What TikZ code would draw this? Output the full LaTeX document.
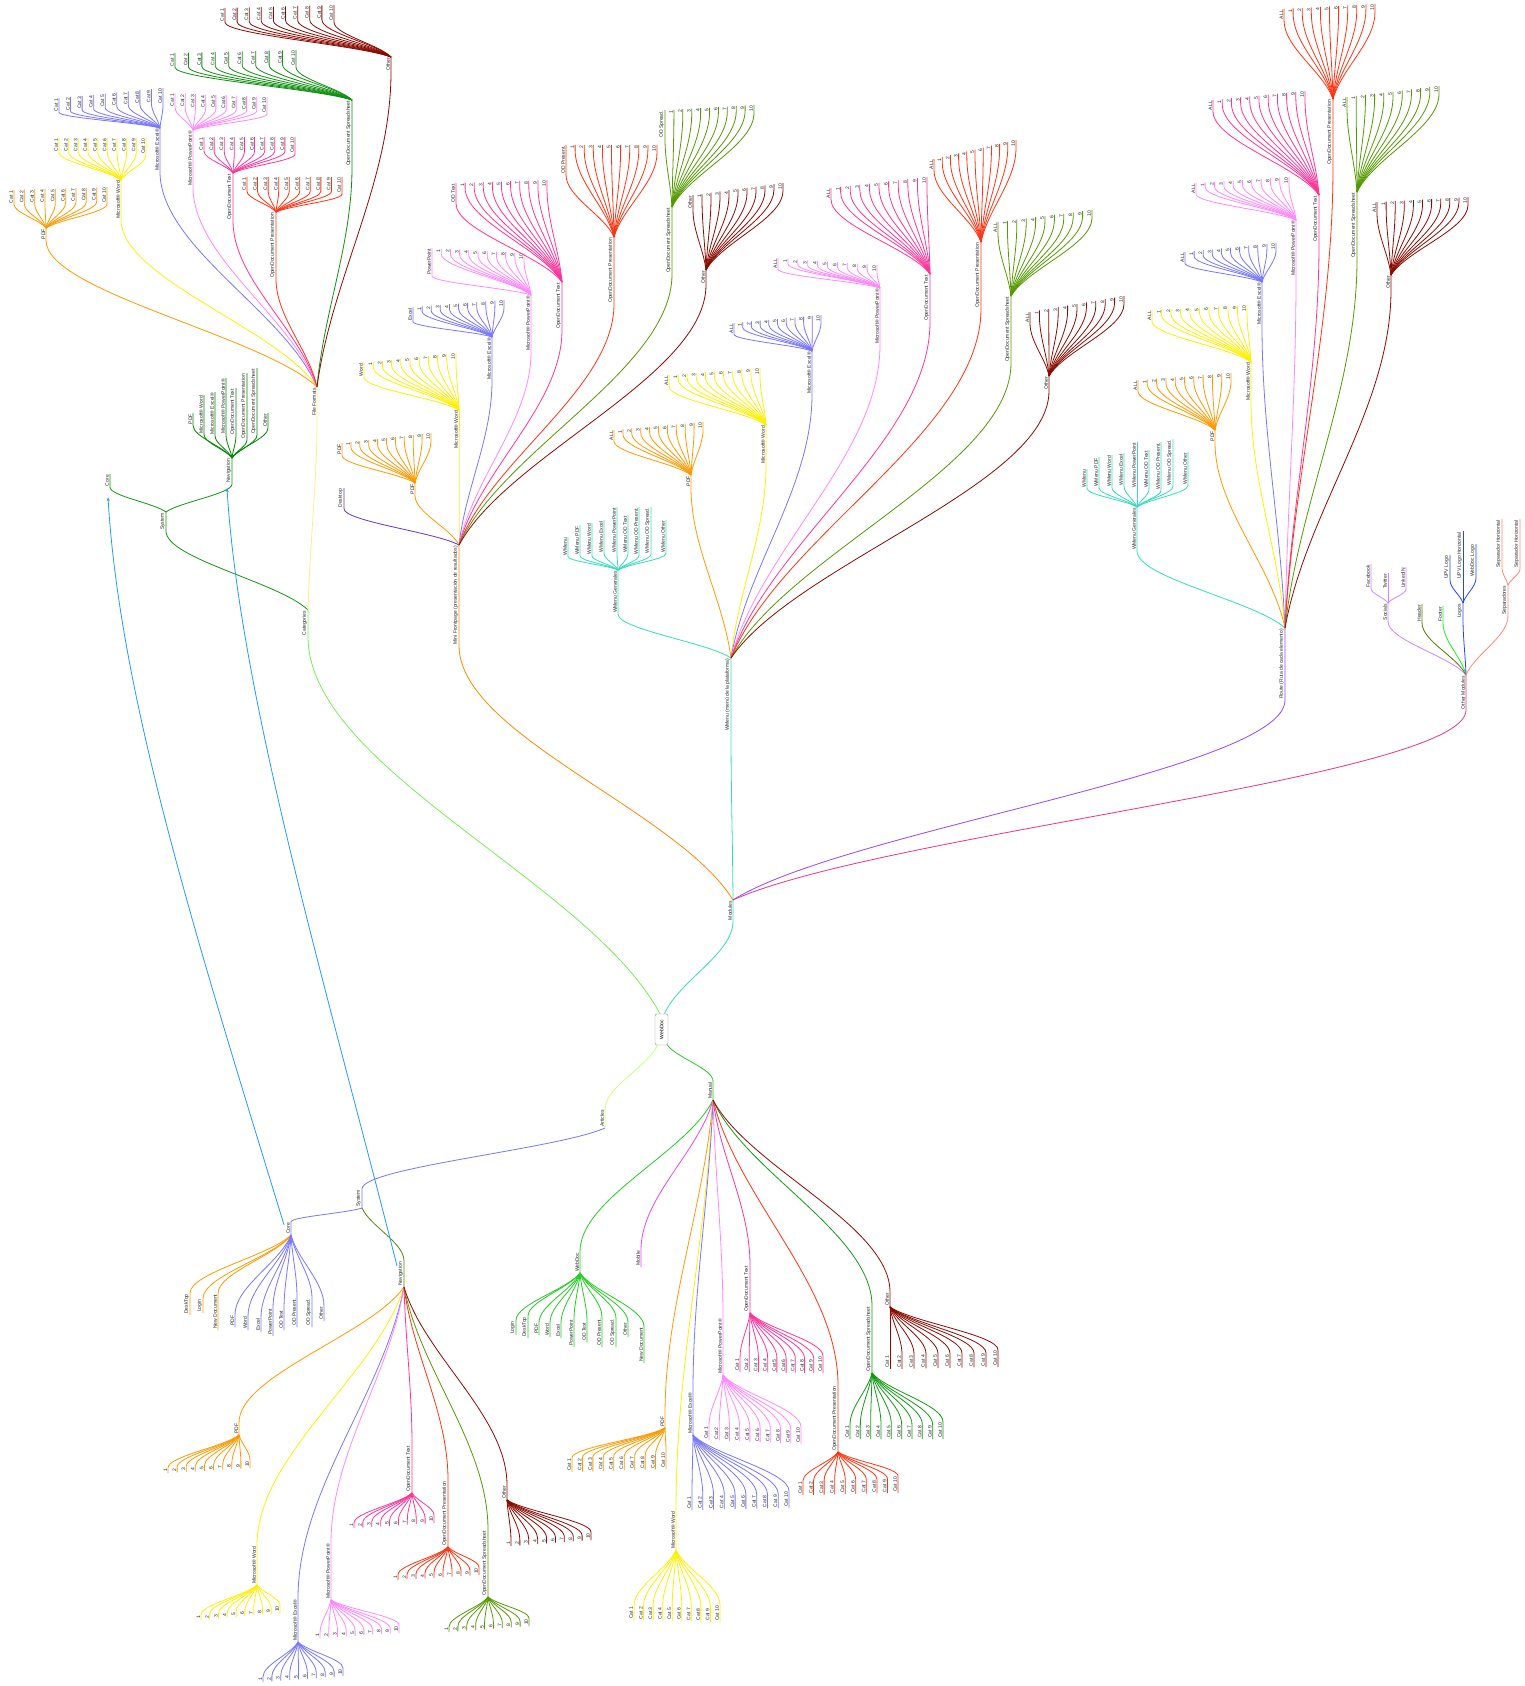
\documentclass[tikz,border=0pt]{standalone}
\usepackage{fontspec}
\setmainfont{Liberation Sans}
\usetikzlibrary{calc,arrows.meta}

\definecolor{cPDF}{HTML}{FF9900}
\definecolor{cWord}{HTML}{FFF000}
\definecolor{cXls}{HTML}{7777FF}
\definecolor{cPpt}{HTML}{FF88FF}
\definecolor{cOdt}{HTML}{FF3399}
\definecolor{cOdp}{HTML}{FF3311}
\definecolor{cOds}{HTML}{109010}
\definecolor{cOdsB}{HTML}{559900}
\definecolor{cOth}{HTML}{8B0A00}
\definecolor{cTeal}{HTML}{33DDBB}
\definecolor{cCat}{HTML}{77EE55}
\definecolor{cFF}{HTML}{FFEE88}
\definecolor{cMini}{HTML}{FF8800}
\definecolor{cRoute}{HTML}{9944FF}
\definecolor{cOMod}{HTML}{EE3388}
\definecolor{cArt}{HTML}{CCFF77}
\definecolor{cMan}{HTML}{22CC22}
\definecolor{cSysG}{HTML}{119911}
\definecolor{cNavG}{HTML}{008800}
\definecolor{cSysB}{HTML}{7777FF}
\definecolor{cNavO}{HTML}{558800}
\definecolor{cDesk}{HTML}{6633CC}
\definecolor{cSoc}{HTML}{CC88FF}
\definecolor{cHead}{HTML}{557700}
\definecolor{cFoot}{HTML}{22EE22}
\definecolor{cLogo}{HTML}{2244FF}
\definecolor{cSep}{HTML}{FF8877}
\definecolor{cMob}{HTML}{EE44EE}
\definecolor{cLink}{HTML}{2299FF}

% #1 u/d, #2 name, #3 parent coordinate, #4 colour, #5 x, #6 y of far end, #7 text
\newcommand\mmnode[7]{%
  \if#1u
    \node[lbl,anchor=south east] (#2) at (#5,#6) {#7};
    \coordinate (#2-n) at (#2.south west);
    \coordinate (#2-f) at (#2.south east);
  \else
    \node[lbl,anchor=south west] (#2) at (#5,#6) {#7};
    \coordinate (#2-n) at (#2.south east);
    \coordinate (#2-f) at (#2.south west);
  \fi
  \draw[edge,draw=#4] let \p1=(#3), \p2=(#2-n) in
    (#3) .. controls ({\x1+0.2*(\x2-\x1)},{\y1+0.35*(\y2-\y1)}) and ({\x2},{\y2+0.35*(\y1-\y2)}) .. (#2-n) -- (#2-f);
}
% evenly spaced fan: #1 dir, #2 parent node, #3 colour, #4 x0, #5 x1, #6 y0, #7 y1, #8 list
\newcommand\fan[8]{%
  \foreach \lab [count=\kk] in #8 {\xdef\fanN{\kk}}%
  \foreach \lab [count=\ii] in #8 {%
    \pgfmathsetmacro\xx{#4+(\ii-1)*(#5-#4)/(\fanN-1)}%
    \pgfmathsetmacro\yy{#6+(\ii-1)*(#7-#6)/(\fanN-1)}%
    \mmnode{#1}{#2-\ii}{#2-f}{#3}{\xx}{\yy}{\lab}%
  }%
}
% explicit fan: #1 dir, #2 parent node, #3 name prefix, #4 colour, #5 list x/y/text
\newcommand\fanx[5]{%
  \foreach \xx/\yy/\lab [count=\ii] in #5 {\mmnode{#1}{#3-\ii}{#2-f}{#4}{\xx}{\yy}{\lab}}%
}
\def\cats{Cat 1,Cat 2,Cat 3,Cat 4,Cat 5,Cat 6,Cat 7,Cat 8,Cat 9,Cat 10}
\def\nums{1,2,3,4,5,6,7,8,9,10}
\def\allnums{ALL,1,2,3,4,5,6,7,8,9,10}

\begin{document}
\begin{tikzpicture}[x=1pt,y=-1pt,
  lbl/.style={rotate=90,inner xsep=1pt,inner ysep=0.8pt,font=\fontsize{5}{6}\selectfont,text=black!85},
  edge/.style={line width=0.8pt},
  link/.style={draw=cLink,line width=0.8pt,-{Stealth[length=4pt,width=3pt]}}]
\useasboundingbox (0,0) rectangle (1525,1686);
\fill[white] (0,0) rectangle (1525,1686);

% root
\node[draw=black!45,rounded corners=2pt,rotate=90,minimum width=31pt,minimum height=13pt,inner sep=0.5pt,
      font=\fontsize{5}{6}\selectfont,fill=white] (root) at (661.5,1029.5) {WebDoc};
\coordinate (rTL) at ([xshift=-1.5pt]root.east);
\coordinate (rTR) at ([xshift=3pt]root.east);
\coordinate (rBL) at ([xshift=-4pt]root.west);
\coordinate (rBR) at ([xshift=6pt]root.west);

% ===== Categories
\mmnode{u}{cat}{rTL}{cCat}{308}{610}{Categories}
\mmnode{u}{sys}{cat-f}{cSysG}{166}{512}{System}
\mmnode{u}{core1}{sys-f}{cSysG}{110}{474}{Core}
\mmnode{u}{nav1}{sys-f}{cSysG}{232}{458}{Navigation}
\fanx{u}{nav1}{nav1}{cNavG}{{193/413/PDF,204/395/Microsoft® Word,215/392/Microsoft® Excel®,226/378/Microsoft® PowerPoint®,236/388/OpenDocument Text,247/373/OpenDocument Presentation,257/368/OpenDocument Spreadsheet,268/413/Other}}

\mmnode{u}{ff}{cat-f}{cFF}{317}{387}{File Formats}
\mmnode{u}{ffpdf}{ff-f}{cPDF}{46}{228}{PDF}
\fan{u}{ffpdf}{cPDF}{14}{107}{190}{187}{\cats}
\mmnode{u}{ffword}{ff-f}{cWord}{121}{180}{Microsoft® Word}
\fan{u}{ffword}{cWord}{59}{146}{138}{138}{\cats}
\mmnode{u}{ffxls}{ff-f}{cXls}{160}{128}{Microsoft® Excel®}
\fan{u}{ffxls}{cXls}{59}{163}{98}{88}{\cats}
\mmnode{u}{ffppt}{ff-f}{cPpt}{193}{130}{Microsoft® PowerPoint®}
\fan{u}{ffppt}{cPpt}{175}{267}{93}{97}{\cats}
\mmnode{u}{ffodt}{ff-f}{cOdt}{233}{173}{OpenDocument Text}
\fan{u}{ffodt}{cOdt}{204}{295}{137}{137}{\cats}
\mmnode{u}{ffodp}{ff-f}{cOdp}{276}{212}{OpenDocument Presentation}
\fan{u}{ffodp}{cOdp}{247}{342}{177}{177}{\cats}
\mmnode{u}{ffods}{ff-f}{cOds}{352}{100}{OpenDocument Spreadsheet}
\fan{u}{ffods}{cOds}{175}{296}{53}{50}{\cats}
\mmnode{u}{ffoth}{ff-f}{cOth}{391}{57}{Other}
\fan{u}{ffoth}{cOth}{225}{334}{8}{5}{\cats}

% ===== Modules
\mmnode{u}{mod}{rTR}{cTeal}{733}{900}{Modules}
\mmnode{u}{mini}{mod-f}{cMini}{459}{545}{Mini Frontpage (presentación de resultados)}
\mmnode{u}{mdesk}{mini-f}{cDesk}{344}{488}{Desktop}
\mmnode{u}{mpdf}{mini-f}{cPDF}{415}{483}{PDF}
\fan{u}{mpdf}{cPDF}{342}{431}{443}{433}{{PDF,1,2,3,4,5,6,7,8,9,10}}
\mmnode{u}{mword}{mini-f}{cWord}{459}{410}{Microsoft® Word}
\fan{u}{mword}{cWord}{364}{456}{363}{353}{{Word,1,2,3,4,5,6,7,8,9,10}}
\mmnode{u}{mxls}{mini-f}{cXls}{492}{337}{Microsoft® Excel®}
\fan{u}{mxls}{cXls}{413}{504}{307}{300}{{Excel,1,2,3,4,5,6,7,8,9,10}}
\mmnode{u}{mppt}{mini-f}{cPpt}{531}{295}{Microsoft® PowerPoint®}
\fan{u}{mppt}{cPpt}{432}{524}{248}{253}{{PowerPoint,1,2,3,4,5,6,7,8,9,10}}
\mmnode{u}{modt}{mini-f}{cOdt}{562}{282}{OpenDocument Text}
\fan{u}{modt}{cOdt}{456}{547}{183}{180}{{OD Text,1,2,3,4,5,6,7,8,9,10}}
\mmnode{u}{modp}{mini-f}{cOdp}{614}{237}{OpenDocument Presentation}
\fan{u}{modp}{cOdp}{566}{657}{145}{145}{{OD Present.,1,2,3,4,5,6,7,8,9,10}}
\mmnode{u}{mods}{mini-f}{cOdsB}{672}{207}{OpenDocument Spreadsheet}
\fan{u}{mods}{cOdsB}{665}{754}{110}{105}{{OD Spread.,1,2,3,4,5,6,7,8,9,10}}
\mmnode{u}{moth}{mini-f}{cOth}{706}{270}{Other}
\fan{u}{moth}{cOth}{693}{783}{195}{183}{{Other,1,2,3,4,5,6,7,8,9,10}}

\mmnode{u}{wm}{mod-f}{cTeal}{731}{658}{WMenu (menú de la plataforma)}
\mmnode{u}{wgen}{wm-f}{cTeal}{618}{570}{WMenu Generales}
\fanx{u}{wgen}{wgen}{cTeal}{{568/537/WMenu,580/525/WMenu PDF,592/523/WMenu Word,604/520/WMenu Excel,617/507/WMenu PowerPoint,628/515/WMenu OD Text,639/507/WMenu OD Present.,651/507/WMenu OD Spread.,666/520/WMenu Other}}
\mmnode{u}{wpdf}{wm-f}{cPDF}{691}{475}{PDF}
\fan{u}{wpdf}{cPDF}{614}{703}{430}{422}{\allnums}
\mmnode{u}{wword}{wm-f}{cWord}{766}{425}{Microsoft® Word}
\fan{u}{wword}{cWord}{669}{760}{375}{368}{\allnums}
\mmnode{u}{wxls}{wm-f}{cXls}{812}{351}{Microsoft® Excel®}
\fan{u}{wxls}{cXls}{734}{821}{323}{315}{\allnums}
\mmnode{u}{wppt}{wm-f}{cPpt}{880}{288}{Microsoft® PowerPoint®}
\fan{u}{wppt}{cPpt}{778}{877}{258}{265}{\allnums}
\mmnode{u}{wodt}{wm-f}{cOdt}{930}{274}{OpenDocument Text}
\fan{u}{wodt}{cOdt}{831}{927}{188}{177}{\allnums}
\mmnode{u}{wodp}{wm-f}{cOdp}{981}{242}{OpenDocument Presentation}
\fan{u}{wodp}{cOdp}{934}{1016}{159}{140}{\allnums}
\mmnode{u}{wods}{wm-f}{cOdsB}{1011}{296}{OpenDocument Spreadsheet}
\fan{u}{wods}{cOdsB}{998}{1092}{222}{210}{\allnums}
\mmnode{u}{woth}{wm-f}{cOth}{1049}{376}{Other}
\fan{u}{woth}{cOth}{1030}{1124}{312}{296}{\allnums}

\mmnode{u}{route}{mod-f}{cRoute}{1285}{628}{Route (Ruta de cada elemento)}
\mmnode{u}{rgen}{route-f}{cTeal}{1137}{507}{WMenu Generales}
\fanx{u}{rgen}{rgen}{cTeal}{{1087/469/WMenu,1099/457/WMenu PDF,1112/455/WMenu Word,1124/453/WMenu Excel,1137/442/WMenu PowerPoint,1149/450/WMenu OD Text,1161/442/WMenu OD Present.,1173/439/WMenu OD Spread.,1188/452/WMenu Other}}
\mmnode{u}{rpdf}{route-f}{cPDF}{1215}{430}{PDF}
\fan{u}{rpdf}{cPDF}{1138}{1231}{380}{373}{\allnums}
\mmnode{u}{rword}{route-f}{cWord}{1251}{362}{Microsoft® Word}
\fan{u}{rword}{cWord}{1152}{1247}{310}{305}{\allnums}
\mmnode{u}{rxls}{route-f}{cXls}{1262}{282}{Microsoft® Excel®}
\fan{u}{rxls}{cXls}{1185}{1276}{252}{243}{\allnums}
\mmnode{u}{rppt}{route-f}{cPpt}{1296}{220}{Microsoft® PowerPoint®}
\fan{u}{rppt}{cPpt}{1196}{1289}{183}{177}{\allnums}
\mmnode{u}{rodt}{route-f}{cOdt}{1319}{195}{OpenDocument Text}
\fan{u}{rodt}{cOdt}{1213}{1305}{100}{91}{\allnums}
\mmnode{u}{rodp}{route-f}{cOdp}{1333}{99}{OpenDocument Presentation}
\fan{u}{rodp}{cOdp}{1284}{1375}{9}{4}{\allnums}
\mmnode{u}{rods}{route-f}{cOdsB}{1357}{192}{OpenDocument Spreadsheet}
\fan{u}{rods}{cOdsB}{1347}{1439}{97}{86}{\allnums}
\mmnode{u}{roth}{route-f}{cOth}{1391}{275}{Other}
\fan{u}{roth}{cOth}{1377}{1468}{202}{197}{\allnums}

\mmnode{u}{omod}{mod-f}{cOMod}{1466}{675}{Other Modules}
\mmnode{u}{soc}{omod-f}{cSoc}{1388}{603}{Socials}
\fanx{u}{soc}{soc}{cSoc}{{1371/564/Facebook,1388/573/Twitter,1406/567/LinkedIN}}
\mmnode{u}{head}{omod-f}{cHead}{1422}{604}{Header}
\mmnode{u}{foot}{omod-f}{cFoot}{1443}{606}{Footer}
\mmnode{u}{logos}{omod-f}{cLogo}{1463}{603}{Logos}
\fanx{u}{logos}{logos}{cLogo}{{1450/555/UPV Logo,1463/531/UPV Logo Horizontal,1476/544/WebDoc Logo}}
\mmnode{u}{sep}{omod-f}{cSep}{1508}{585}{Separadores}
\fanx{u}{sep}{sep}{cSep}{{1502/519/Separador Horizontal,1520/519/Separador Horizontal}}

% ===== Articles
\mmnode{d}{art}{rBL}{cArt}{605}{1128}{Articles}
\mmnode{d}{lsys}{art-f}{cSysB}{362}{1208}{System}
\mmnode{d}{lcore}{lsys-f}{cSysB}{291}{1235}{Core}
\fanx{d}{lcore}{lcoreA}{cPDF}{{190/1315/DeskTop,203/1313/Login,218/1330/New Document}}
\fanx{d}{lcore}{lcoreB}{cSysB}{{235/1327/PDF,248/1330/Word,261/1332/Excel,273/1336/PowerPoint,284/1330/OD Text,297/1327/OD Present.,312/1327/OD Spread.,324/1321/Other}}
\mmnode{d}{lnav}{lsys-f}{cNavO}{404}{1287}{Navigation}
\mmnode{d}{lnpdf}{lnav-f}{cPDF}{239}{1435}{PDF}
\fan{d}{lnpdf}{cPDF}{168}{250}{1473}{1468}{\nums}
\mmnode{d}{lnword}{lnav-f}{cWord}{257}{1585}{Microsoft® Word}
\fan{d}{lnword}{cWord}{201}{280}{1620}{1613}{\nums}
\mmnode{d}{lnxls}{lnav-f}{cXls}{298}{1642}{Microsoft® Excel®}
\fan{d}{lnxls}{cXls}{263}{343}{1682}{1676}{\nums}
\mmnode{d}{lnppt}{lnav-f}{cPpt}{331}{1600}{Microsoft® PowerPoint®}
\fan{d}{lnppt}{cPpt}{320}{399}{1638}{1633}{\nums}
\mmnode{d}{lnodt}{lnav-f}{cOdt}{412}{1493}{OpenDocument Text}
\fan{d}{lnodt}{cOdt}{354}{434}{1528}{1523}{\nums}
\mmnode{d}{lnodp}{lnav-f}{cOdp}{448}{1547}{OpenDocument Presentation}
\fan{d}{lnodp}{cOdp}{398}{479}{1580}{1575}{\nums}
\mmnode{d}{lnods}{lnav-f}{cOdsB}{488}{1597}{OpenDocument Spreadsheet}
\fan{d}{lnods}{cOdsB}{449}{529}{1632}{1626}{\nums}
\mmnode{d}{lnoth}{lnav-f}{cOth}{507}{1500}{Other}
\fan{d}{lnoth}{cOth}{511}{591}{1546}{1540}{\nums}

% ===== Manual
\mmnode{d}{man}{rBR}{cMan}{713}{1100}{Manual}
\mmnode{d}{mwd}{man-f}{cMan}{580}{1273}{WebDoc}
\fanx{d}{mwd}{mwd}{cMan}{{516/1335/Login,528/1338/DeskTop,539/1335/PDF,550/1337/Word,561/1338/Excel,574/1347/PowerPoint,587/1342/OD Text,602/1347/OD Present.,616/1347/OD Spread.,628/1337/Other,644/1363/New Document}}
\mmnode{d}{mmob}{man-f}{cMob}{641}{1267}{Mobile}
\mmnode{d}{mapdf}{man-f}{cPDF}{665}{1428}{PDF}
\fan{d}{mapdf}{cPDF}{572}{666}{1472}{1469}{\cats}
\mmnode{d}{maword}{man-f}{cWord}{676}{1550}{Microsoft® Word}
\fan{d}{maword}{cWord}{634}{720}{1620}{1622}{\cats}
\mmnode{d}{maxls}{man-f}{cXls}{693}{1435}{Microsoft® Excel®}
\fan{d}{maxls}{cXls}{692}{789}{1510}{1508}{\cats}
\mmnode{d}{mappt}{man-f}{cPpt}{723}{1375}{Microsoft® PowerPoint®}
\fan{d}{mappt}{cPpt}{709}{801}{1440}{1444}{\cats}
\mmnode{d}{maodt}{man-f}{cOdt}{750}{1313}{OpenDocument Text}
\fan{d}{maodt}{cOdt}{740}{823}{1372}{1373}{\cats}
\mmnode{d}{maodp}{man-f}{cOdp}{838}{1452}{OpenDocument Presentation}
\fan{d}{maodp}{cOdp}{803}{898}{1495}{1493}{\cats}
\mmnode{d}{maods}{man-f}{cSysG}{872}{1373}{OpenDocument Spreadsheet}
\fan{d}{maods}{cSysG}{850}{943}{1439}{1439}{\cats}
\mmnode{d}{maoth}{man-f}{cOth}{890}{1307}{Other}
\fan{d}{maoth}{cOth}{890}{998}{1369}{1367}{\cats}

% ===== arrow links
\coordinate (lk1s) at ([xshift=-7pt,yshift=-3pt]lcore-n);
\coordinate (lk1e) at ([xshift=-2pt,yshift=-10pt]core1-n);
\coordinate (lk2s) at ([xshift=-7pt,yshift=-5pt]lnav-n);
\coordinate (lk2e) at ([xshift=-5pt,yshift=-4pt]nav1-n);
\draw[link] (lk1s) .. controls (200,950) and (120,700) .. (lk1e);
\draw[link] (lk2s) .. controls (330,1000) and (240,700) .. (lk2e);
\end{tikzpicture}
\end{document}
